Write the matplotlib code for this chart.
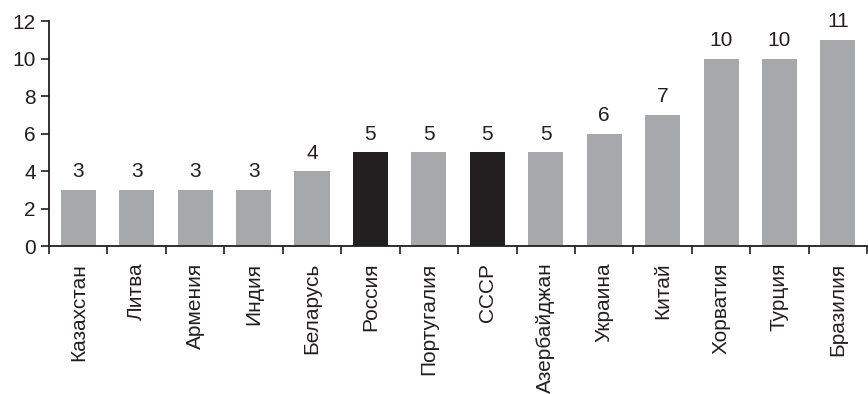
import numpy as np
import matplotlib.pyplot as plt

plt.rcParams['font.family'] = ['Liberation Sans', 'DejaVu Sans']

countries = ['Казахстан', 'Литва', 'Армения', 'Индия', 'Беларусь', 'Россия',
             'Португалия', 'СССР', 'Азербайджан', 'Украина', 'Китай',
             'Хорватия', 'Турция', 'Бразилия']
values = [3, 3, 3, 3, 4, 5, 5, 5, 5, 6, 7, 10, 10, 11]
highlight = ['Россия', 'СССР']

gray = '#a7a8ab'
dark = '#231f20'
colors = [dark if c in highlight else gray for c in countries]

fig = plt.figure(figsize=(8.68, 3.94), dpi=100)
ax = fig.add_axes([0.0565, 0.3756, 0.9425, 0.5711])

x = np.arange(len(countries))
bars = ax.bar(x, values, width=0.6, color=colors)

for xi, v in zip(x, values):
    ax.annotate(str(v), (xi, v), xytext=(0, 6), textcoords='offset points',
                ha='center', va='bottom', fontsize=15, color='#231f20')

ax.set_xlim(-0.5, len(countries) - 0.5)
ax.set_ylim(0, 12)
ax.set_yticks(range(0, 13, 2))
ax.set_xticks(x)
ax.set_xticklabels(countries, rotation=90, fontsize=15, color='#231f20')
ax.set_xticks(np.arange(-0.5, len(countries), 1), minor=True)
ax.tick_params(axis='x', which='major', length=0, pad=12)
ax.tick_params(axis='x', which='minor', length=6, width=1.2, direction='out', color='#231f20')
ax.tick_params(axis='y', length=6, width=1.2, labelsize=15, labelcolor='#231f20', color='#231f20')

for s in ['top', 'right']:
    ax.spines[s].set_visible(False)
for s in ['left', 'bottom']:
    ax.spines[s].set_linewidth(1.3)
    ax.spines[s].set_color('#231f20')

fig.savefig('out.png', dpi=100)
